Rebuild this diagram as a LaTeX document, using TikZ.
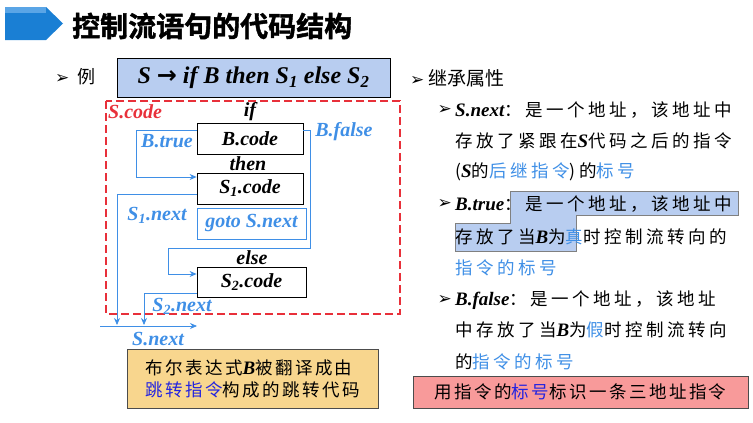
\documentclass[tikz,border=0pt]{standalone}
\usepackage{fontspec}
\setmainfont{Liberation Serif}
\newfontfamily\cjk{Noto Sans CJK SC}
\newfontfamily\cjkb{Noto Sans CJK SC Bold}[FakeBold=1.5]
\newfontfamily\ser{Liberation Serif}
\newfontfamily\dv{DejaVu Sans}
\usetikzlibrary{arrows.meta,calc}
\definecolor{lb}{HTML}{3F8FE6}
\definecolor{db}{HTML}{2424E0}
\definecolor{rd}{HTML}{E8303A}
\definecolor{hl}{HTML}{B8CDF0}
\definecolor{yl}{HTML}{F8D68E}
\definecolor{pk}{HTML}{F89A9A}
\newcommand{\li}[1]{{\ser\bfseries\itshape\fontsize{19}{19}\selectfont #1}}
\newcommand{\bul}{{\dv\fontsize{17}{17}\selectfont ➢}}
\tikzset{
 cb/.style={draw=black,thick,minimum width=106pt,minimum height=31pt,inner sep=0pt,font=\ser\bfseries\itshape\fontsize{20}{20}\selectfont},
 lab/.style={font=\ser\bfseries\itshape\fontsize{20}{20}\selectfont,inner sep=0pt},
 blab/.style={lab,text=lb},
 conn/.style={draw=lb,thick,-{Stealth[length=7pt,width=6pt]}},
 rt/.style={anchor=west,inner sep=0pt,font=\cjk\fontsize{17.5}{17.5}\selectfont\addfontfeature{LetterSpace=20}},
}
\begin{document}
\begin{tikzpicture}[x=1pt,y=-1pt]
\useasboundingbox (0,0) rectangle (753,423);
% title
\fill[color={rgb,255:red,26;green,127;blue,212}] (5,7) -- (46,7) -- (63,23.5) -- (46,40) -- (5,40) -- cycle;
\fill[color={rgb,255:red,90;green,165;blue,230}] (5,7) rectangle (46,13);
\node[anchor=west,inner sep=0pt,font=\cjkb\fontsize{28}{28}\selectfont] (title) at (72,26) {控制流语句的代码结构};
% example
\node[anchor=west,inner sep=0pt,font=\cjk\fontsize{18}{18}\selectfont] (ex) at (55,77) {\bul\ \ 例};
\node[draw=black,fill=hl,minimum width=273pt,minimum height=39pt,inner sep=0pt,font=\ser\bfseries\itshape\fontsize{24}{24}\selectfont] (rule) at (253.5,77.5) {S {\upshape\dv →} if B then S\textsubscript{1} else S\textsubscript{2}};
% dashed box
\draw[rd,line width=1.3pt,dash pattern=on 8pt off 4pt] (106,101) rectangle (400,314);
\node[lab,text=rd,anchor=west] (scode) at (108,112) {S.code};
\node[lab] (if) at (250,112) {if};
\node[cb] (B) at (250,138.5) {B.code};
\node[lab] (then) at (248,164) {then};
\node[cb] (S1) at (250,188.5) {S\textsubscript{1}.code};
\node[cb,draw=lb,text=lb,minimum width=109pt] (go) at (251.5,223.5) {goto S.next};
\node[lab] (else) at (252,258) {else};
\node[cb,minimum width=109pt,minimum height=30pt] (S2) at (251.5,282) {S\textsubscript{2}.code};
\node[blab] (bt) at (167,141) {B.true};
\node[blab] (bf) at (344,132) {B.false};
\node[blab] (s1n) at (157,215) {S\textsubscript{1}.next};
\node[blab] (s2n) at (182,306) {S\textsubscript{2}.next};
\node[blab] (sn) at (158,339) {S.next};
\coordinate (n1) at (117,325);
\coordinate (n2) at (144,325);
\coordinate (sa) at (100,326);
\coordinate (sb) at (197,326);
\draw[conn] ([yshift=8.5pt]B.west) -- ++(-60,0) |- ([yshift=11.5pt]S1.west);
\draw[conn] ([yshift=8.5pt]B.east) -- (310,130) -- (310,248) -- (168,248) |- ([yshift=8pt]S2.west);
\draw[conn] ([yshift=-5.5pt]S1.west) -| (n1);
\draw[conn] ([yshift=-11pt]S2.west) -| (n2);
\draw[conn] (sa) -- (sb);
% right side
\node[anchor=west,inner sep=0pt,font=\cjk\fontsize{19}{19}\selectfont] (inh) at (410,78) {\bul\ 继承属性};
\draw[gray,fill=hl] (510,191) -- (738,191) -- (738,215) -- (576,215) -- (576,251) -- (455,251) -- (455,223) -- (510,223) -- cycle;
\node[anchor=east,inner sep=0pt] (b1) at (452,110) {\bul};
\node[rt] (r1) at (455,110) {\li{S.next}：是一个地址，该地址中};
\node[rt] (r2) at (455,141) {存放了紧跟在\li{S}代码之后的指令};
\node[rt] (r3) at (455,172) {(\li{S}的\textcolor{lb}{后继指令})的\textcolor{lb}{标号}};
\node[anchor=east,inner sep=0pt] (b2) at (452,204) {\bul};
\node[rt] (r4) at (455,204) {\li{B.true}：是一个地址，该地址中};
\node[rt] (r5) at (455,237) {存放了当\li{B}为\textcolor{lb}{真}时控制流转向的};
\node[rt] (r6) at (455,268) {\textcolor{lb}{指令的标号}};
\node[anchor=east,inner sep=0pt] (b3) at (452,300) {\bul};
\node[rt] (r7) at (455,300) {\li{B.false}：是一个地址，该地址};
\node[rt] (r8) at (455,330) {中存放了当\li{B}为\textcolor{lb}{假}时控制流转向};
\node[rt] (r9) at (455,362) {的\textcolor{lb}{指令的标号}};
% bottom boxes
\node[draw=black!70,fill=yl,minimum width=251pt,minimum height=59pt,inner sep=0pt,align=left,font=\cjk\fontsize{17.5}{22}\selectfont\addfontfeature{LetterSpace=14}] (yb) at (252.5,378.5) {布尔表达式\li{B}被翻译成由\\\textcolor{db}{跳转指令}构成的跳转代码};
\node[draw=black!70,fill=pk,minimum width=335pt,minimum height=32pt,inner sep=0pt,font=\cjk\fontsize{17.5}{17.5}\selectfont\addfontfeature{LetterSpace=14}] (pb) at (580.5,392) {用指令的\textcolor{db}{标号}标识一条三地址指令};
\end{tikzpicture}
\end{document}
